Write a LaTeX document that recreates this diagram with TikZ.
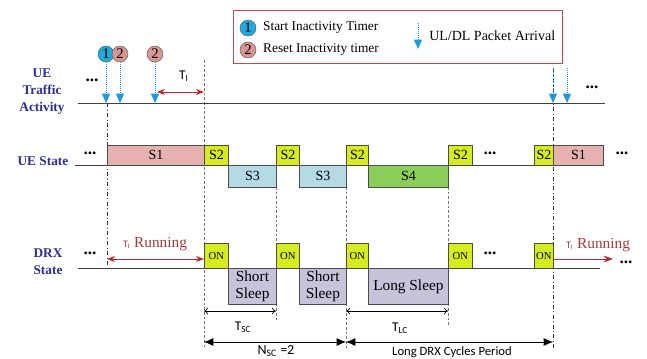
\documentclass[tikz,border=0pt]{standalone}
\usepackage{fontspec}
\setmainfont{Liberation Serif}
\setsansfont{Carlito}
\usetikzlibrary{positioning,calc,arrows.meta}

\definecolor{navy}{RGB}{45,45,145}
\definecolor{sonepink}{RGB}{230,178,176}
\definecolor{stwoyel}{RGB}{214,236,30}
\definecolor{sthreeblue}{RGB}{180,218,230}
\definecolor{sfourgreen}{RGB}{140,206,90}
\definecolor{sleepgray}{RGB}{200,194,218}
\definecolor{pktblue}{RGB}{30,150,225}
\definecolor{timered}{RGB}{180,40,40}
\definecolor{runred}{RGB}{160,60,60}
\definecolor{legframe}{RGB}{180,80,80}
\definecolor{onecyan}{RGB}{30,170,220}
\definecolor{twopink}{RGB}{215,150,145}

\tikzset{
  rowlbl/.style={font=\fontsize{10}{12.75}\selectfont\bfseries, text=navy, align=center},
  stbox/.style={draw=black!70, line width=0.6pt, inner sep=0pt, anchor=north west, font=\fontsize{10.5}{12}\selectfont},
  onbox/.style={stbox, fill=stwoyel, minimum height=18.75pt, font=\fontsize{8}{9}\selectfont},
  sleepbox/.style={stbox, fill=sleepgray, minimum height=27pt, align=center, font=\fontsize{11.5}{12.75}\selectfont},
  numcirc/.style={circle, draw=black!60, line width=0.4pt, minimum size=12pt, inner sep=0pt, font=\fontsize{11}{11}\selectfont},
  legtxt/.style={font=\fontsize{10}{12}\selectfont, inner sep=0pt},
  more/.style={font=\fontsize{13}{13}\selectfont\bfseries, inner sep=0pt},
  pkt/.style={draw=pktblue, densely dotted, line width=0.5pt, -{Triangle[length=7pt,width=6pt,fill=pktblue]}},
  vline/.style={draw=black!55, dash pattern=on 2pt off 1.5pt, line width=0.5pt},
  evline/.style={draw=black!80, dash dot, line width=0.6pt},
  axis/.style={draw=black!75, line width=0.7pt},
  redarr/.style={draw=timered, line width=0.7pt},
  subtxt/.style={font=\sffamily\fontsize{10}{11}\selectfont, inner sep=1pt},
  runtxt/.style={font=\fontsize{11.5}{12}\selectfont, text=runred, inner sep=0pt}
}

\begin{document}
\begin{tikzpicture}[x=0.75pt,y=-0.75pt]
\useasboundingbox (0,0) rectangle (647,358);

% row labels
\node[rowlbl] (lbltraffic) at (42,92) {UE\\Traffic\\Activity};
\node[rowlbl, anchor=east] (lblstate) at (73,161) {UE State};
\node[rowlbl] (lbldrx) at (48,262) {DRX\\State};

% axes
\coordinate (ta) at (78,103);  \coordinate (tb) at (605,103);
\coordinate (sa) at (75,165);  \coordinate (sb) at (553,165);
\coordinate (da) at (78,268);  \coordinate (db) at (600,268);

% vertical guide lines
\draw[evline] (107,103) -- (107,268);
\draw[evline] (553,68) -- (553,348);
\draw[vline] (204,60) -- (204,348);
\draw[vline] (276,187) -- (276,322);
\draw[vline] (346,187) -- (346,350);
\draw[vline] (448,187) -- (448,325);

\draw[axis] (ta) -- (tb);
\draw[axis] (sa) -- (sb);
\draw[axis] (da) -- (db);

% legend
\node[draw=legframe, line width=0.8pt, minimum width=246.75pt, minimum height=39.75pt, anchor=north west, inner sep=0pt] (legend) at (233,10) {};
\node[numcirc, fill=onecyan] (lc1) at (248,28) {1};
\node[numcirc, fill=twopink] (lc2) at (248,50) {2};
\node[legtxt, anchor=west, right=5pt of lc1] (lt1) {Start Inactivity Timer};
\node[legtxt, anchor=west, right=5pt of lc2] (lt2) {Reset Inactivity timer};
\coordinate (pa) at (418,23); \coordinate (pb) at (418,49);
\draw[pkt] (pa) -- (pb);
\node[legtxt, font=\fontsize{10.5}{12}\selectfont, anchor=west] (lt3) at (429,36) {UL/DL Packet Arrival};

% traffic activity
\node[more] (m1) at (92,80) {...};
\node[more] (m2) at (592,87) {...};
\node[numcirc, fill=onecyan] (c1) at (106,54) {1};
\node[numcirc, fill=twopink] (c2) at (120,54) {2};
\node[numcirc, fill=twopink] (c3) at (155,54) {2};
\draw[pkt] (c1.south) -- (c1.south |- ta);
\draw[pkt] (c2.south) -- (c2.south |- ta);
\draw[pkt] (c3.south) -- (c3.south |- ta);
\coordinate (p4) at (553,68); \coordinate (p5) at (567,68);
\draw[pkt] (p4) -- (p4 |- tb);
\draw[pkt] (p5) -- (p5 |- tb);
\coordinate (tia) at (157,92); \coordinate (tib) at (204,92);
\draw[redarr, {Stealth[length=6pt,width=4.5pt]}-{Stealth[length=6pt,width=4.5pt]}] (tia) -- (tib);
\node[subtxt] (tI) at (184,76) {T\textsubscript{I}};

% UE state
\node[more] (m3) at (90,153) {...};
\foreach \nm/\xa/\xb/\col/\txt in {ua/107/204/sonepink/S1, ub/204/228/stwoyel/S2, ud/276/299/stwoyel/S2,
    uf/346/368/stwoyel/S2, uh/448/472/stwoyel/S2, ui/534/553/stwoyel/S2, uj/553/603/sonepink/S1}
  \node[stbox, fill=\col, minimum width={(\xb-\xa)*0.75pt}, minimum height=15pt] (\nm) at (\xa,145) {\txt};
\foreach \nm/\xa/\xb/\col/\txt in {uc/228/276/sthreeblue/S3, ue/299/346/sthreeblue/S3, ug/368/448/sfourgreen/S4}
  \node[stbox, fill=\col, minimum width={(\xb-\xa)*0.75pt}, minimum height=16.5pt] (\nm) at (\xa,165) {\txt};
\node[more] (m4) at (490,153) {...};
\node[more] (m5) at (622,153) {...};

% DRX state
\node[more] (m6) at (90,253) {...};
\foreach \nm/\xa/\xb in {on1/204/228, on2/276/299, on3/346/368, on4/448/472, on5/534/553}
  \node[onbox, minimum width={(\xb-\xa)*0.75pt}] (\nm) at (\xa,243) {ON};
\node[sleepbox, minimum width=36pt] (sl1) at (228,268) {Short\\Sleep};
\node[sleepbox, minimum width=35.25pt] (sl2) at (299,268) {Short\\Sleep};
\node[sleepbox, minimum width=60pt] (sl3) at (368,268) {Long Sleep};
\node[more] (m7) at (490,253) {...};
\node[more] (m8) at (626,262) {...};

\coordinate (ra) at (107,259); \coordinate (rb) at (204,259);
\draw[redarr, {Stealth[length=6pt,width=4.5pt]}-{Stealth[length=6pt,width=4.5pt]}] (ra) -- (rb);
\node[runtxt] (run1) at (155,244) {{\sffamily\fontsize{7.5}{8}\selectfont T\textsubscript{I}} Running};
\coordinate (rc) at (553,259); \coordinate (rd) at (613,259);
\draw[redarr, -{Stealth[length=7pt,width=5pt]}] (rc) -- (rd);
\node[runtxt] (run2) at (598,245) {{\sffamily\fontsize{7.5}{8}\selectfont T\textsubscript{I}} Running};

% cycle lengths
\coordinate (ka) at (204,311); \coordinate (kb) at (276,311);
\coordinate (kc) at (346,311); \coordinate (kd) at (448,311);
\draw[line width=0.5pt, {To[length=3pt,width=5pt]}-{To[length=3pt,width=5pt]}] (ka) -- (kb);
\draw[line width=0.5pt, {To[length=3pt,width=5pt]}-{To[length=3pt,width=5pt]}] (kc) -- (kd);
\node[subtxt] (tsc) at (243,327) {T\textsubscript{SC}};
\node[subtxt] (tlc) at (400,328) {T\textsubscript{LC}};

\coordinate (na) at (204,342); \coordinate (nb) at (346,342); \coordinate (nc) at (553,342);
\draw[line width=0.6pt, {Latex[length=7pt,width=6pt]}-{Latex[length=7pt,width=6pt]}] (na) -- (nb);
\draw[line width=0.6pt, {Latex[length=7pt,width=6pt]}-{Latex[length=7pt,width=6pt]}] (nb) -- (nc);
\node[subtxt, font=\sffamily\fontsize{10.5}{11}\selectfont] (nsc) at (276,351) {N\textsubscript{SC} =2};
\node[subtxt, font=\sffamily\fontsize{9.5}{11}\selectfont] (ldrx) at (452,352) {Long DRX Cycles Period};
\end{tikzpicture}
\end{document}
